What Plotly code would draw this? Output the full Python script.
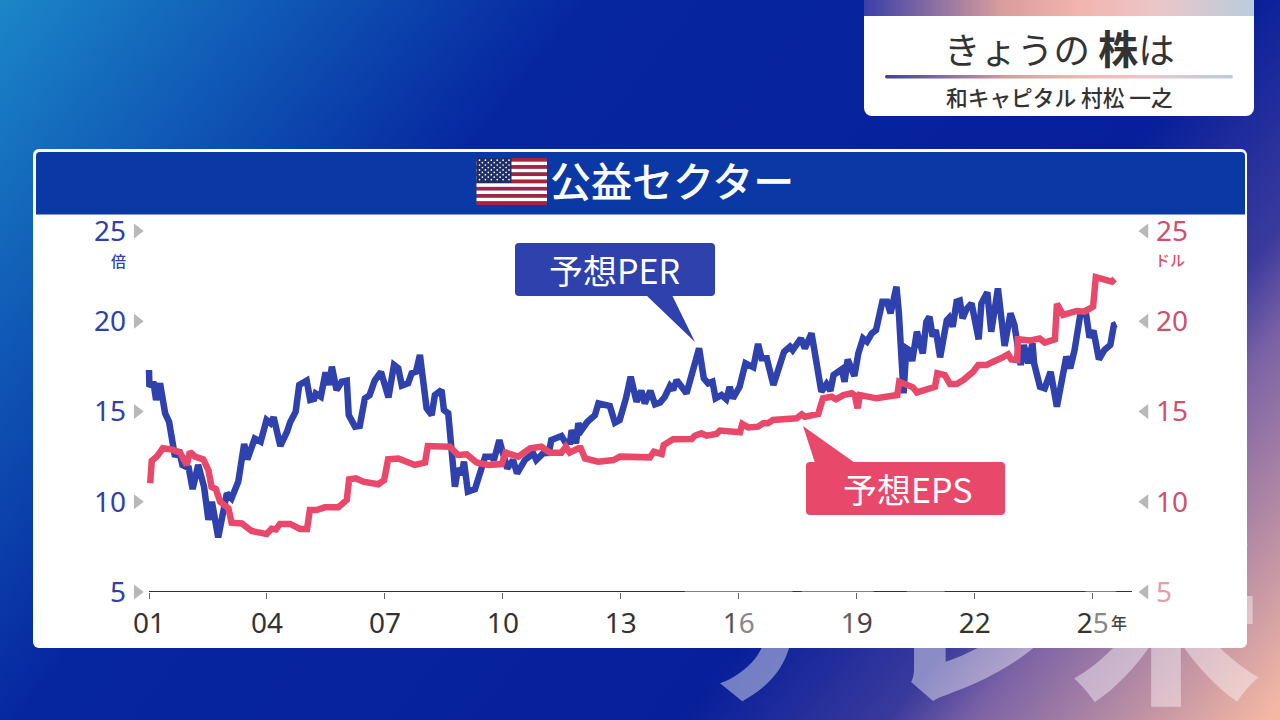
import base64
import plotly.graph_objects as go

# Years since January 2001
PER_YEARS = [
    0.00,0.01,0.11,0.18,0.28,0.41,0.51,0.66,0.76,0.85,
    1.01,1.11,1.25,1.40,1.51,1.60,1.76,1.98,2.10,2.27,
    2.42,2.50,2.69,2.84,2.99,3.09,3.17,3.34,3.51,3.59,
    3.73,3.82,4.01,4.10,4.20,4.24,4.37,4.49,4.58,4.65,
    4.77,4.90,5.03,5.08,5.24,5.36,5.49,5.61,5.74,5.90,
    6.09,6.23,6.34,6.43,6.59,6.68,6.79,6.89,7.06,7.19,
    7.27,7.44,7.50,7.61,7.78,7.86,7.95,8.01,8.11,8.29,
    8.55,8.72,8.77,8.91,9.11,9.26,9.36,9.56,9.77,9.85,
    10.02,10.17,10.23,10.36,10.49,10.58,10.71,10.75,10.86,10.92,
    11.00,11.15,11.34,11.43,11.54,11.72,11.85,11.97,12.13,12.25,
    12.40,12.52,12.61,12.75,12.87,13.00,13.12,13.25,13.33,13.42,
    13.67,13.84,13.99,14.11,14.22,14.33,14.41,14.56,14.68,14.77,
    14.85,15.02,15.17,15.37,15.49,15.58,15.71,15.88,16.00,16.15,
    16.30,16.37,16.58,16.68,16.85,17.01,17.10,17.23,17.33,17.41,
    17.62,17.69,17.77,17.94,18.04,18.16,18.26,18.38,18.49,18.65,
    18.77,18.86,19.01,19.07,19.19,19.26,19.33,19.41,19.53,19.68,
    19.77,19.85,19.93,20.01,20.12,20.29,20.35,20.44,20.54,20.62,
    20.69,20.79,20.92,21.10,21.17,21.32,21.42,21.59,21.76,21.91,
    22.01,22.17,22.25,22.36,22.47,22.51,22.66,22.78,22.93,23.09,
    23.21,23.33,23.43,23.54,23.69,23.82,23.92,24.02,24.16,24.30,
    24.45,24.54,24.60,
]
PER_VALUES = [
    17.3,16.37,16.65,15.64,16.56,14.9,14.43,12.5,12.87,12.04,
    11.87,10.7,12.04,10.83,9.0,10.0,8.03,10.47,10.19,11.11,
    13.2,12.35,13.5,13.33,14.53,14.35,14.68,13.09,13.88,14.4,
    14.99,16.47,16.71,15.64,15.7,16.0,15.82,17.17,16.47,17.48,
    16.19,16.65,16.71,14.8,14.16,14.2,15.73,15.91,16.71,17.2,
    15.78,17.58,17.39,16.43,16.56,17.12,17.2,18.13,15.18,14.8,
    15.91,16.19,15.08,14.9,10.83,11.85,11.5,12.22,10.56,10.69,
    12.5,12.5,12.3,13.42,11.85,12.31,11.57,12.31,12.68,12.31,
    12.68,12.7,13.42,13.5,13.64,13.33,13.33,13.97,13.24,14.35,
    13.97,14.43,14.8,15.45,15.4,15.3,14.38,14.53,15.73,16.93,
    15.54,16.15,15.45,16.15,15.4,15.5,15.82,16.41,16.2,16.74,
    16.01,17.2,18.5,16.84,16.56,16.65,15.73,15.91,15.68,16.37,
    15.73,16.37,17.67,17.45,18.74,17.95,17.95,16.47,17.2,18.31,
    18.59,18.4,19.05,18.5,19.33,17.48,16.1,16.52,16.15,17.02,
    17.34,16.65,17.89,16.97,18.22,19.05,18.87,19.33,19.51,21.08,
    21.08,20.44,21.91,20.5,16.01,18.5,18.4,17.8,19.42,18.22,
    19.97,20.25,19.15,19.51,18.0,20.06,20.2,19.7,21.08,21.14,
    20.16,20.66,20.99,19.0,20.99,21.6,19.42,21.82,18.63,20.44,
    19.79,17.58,18.69,17.67,18.78,17.67,16.37,16.28,17.2,15.27,
    16.65,18.04,17.39,18.41,20.44,20.58,19.1,19.48,17.89,18.41,
    18.69,19.79,19.85,
]
EPS_YEARS = [
    0.03,0.07,0.20,0.35,0.58,0.79,0.96,1.04,1.17,1.38,
    1.51,1.59,1.70,1.81,2.02,2.10,2.36,2.61,2.99,3.12,
    3.23,3.33,3.59,3.84,4.02,4.09,4.26,4.47,4.81,5.03,
    5.09,5.26,5.45,5.83,5.98,6.08,6.34,6.76,7.02,7.09,
    7.65,7.86,8.08,8.33,8.63,8.97,9.07,9.39,9.69,9.98,
    10.20,10.49,10.60,10.70,10.92,10.98,11.09,11.42,11.81,11.98,
    12.74,12.84,13.04,13.09,13.33,13.80,13.88,14.05,14.18,14.43,
    14.52,15.03,15.09,15.24,15.49,15.62,15.74,15.87,16.47,16.60,
    16.68,16.93,17.02,17.14,17.36,17.47,17.66,17.87,17.95,18.02,
    18.08,18.50,18.89,19.03,19.08,19.43,19.53,19.73,19.99,20.05,
    20.24,20.37,20.54,20.71,20.96,21.09,21.30,21.47,21.64,21.71,
    21.85,21.93,22.08,22.10,22.40,22.65,22.78,23.04,23.09,23.25,
    23.59,23.80,24.01,24.08,24.35,24.49,24.56,
]
EPS_VALUES = [
    11.02,12.27,12.5,12.96,12.9,12.72,12.04,12.77,12.5,12.35,
    11.76,10.83,10.7,10.0,9.64,8.84,8.8,8.38,8.21,8.51,
    8.47,8.77,8.77,8.49,8.49,9.54,9.54,9.69,9.69,10.1,
    11.24,11.3,11.11,10.97,11.2,12.35,12.4,12.04,12.17,13.09,
    13.05,12.59,12.63,12.18,12.04,12.09,12.72,12.5,12.96,13.05,
    12.72,12.72,13.05,12.72,12.96,12.96,12.4,12.22,12.31,12.5,
    12.46,12.77,12.65,13.14,13.46,13.48,13.66,13.79,13.66,13.75,
    13.94,13.85,14.31,14.12,14.16,14.35,14.35,14.53,14.62,14.84,
    14.71,14.86,14.86,15.73,15.82,15.68,15.91,16.01,15.9,15.18,
    15.91,15.73,15.91,15.91,16.65,16.34,16.06,16.19,16.37,17.12,
    17.02,16.52,16.52,16.74,17.2,17.58,17.58,17.76,18.0,18.0,
    18.17,17.89,17.85,19.0,18.93,19.05,18.82,19.0,20.96,20.35,
    20.57,20.53,20.81,22.44,22.28,22.2,22.34,
]
X_TICK_VALUES = [0, 3, 6, 9, 12, 15, 18, 21, 24]
X_TICK_TEXT = ["01", "04", "07", "10", "13",
               '<span style="color:#555">1</span><span style="color:#888">6</span>',
               '<span style="color:#666">1</span><span style="color:#444">9</span>',
               "22",
               '<span style="color:#333">2</span><span style="color:#888">5</span>']
Y_TICKS = [5, 10, 15, 20, 25]
LEFT_TICK_TEXT = ["5", "10", "15", "20", "25"]
RIGHT_TICK_TEXT = ['<span style="color:#e79bac">5</span>', "10", "15", "20", "25"]
DARK_AXIS_SPANS = [(0, 13.63), (16.37, 16.6), (18.43, 19.27), (20.24, 23.82), (24.59, 25)]

BLUE = "#2e41ad"
RED = "#e8496a"
FONT = "Noto Sans CJK JP"
TICK_FONT = "Noto Sans"
L, R, T, B = 131, 1150, 231, 592
W, H = R - L, B - T


def px(x):
    return (x - L) / W


def py(y):
    return (B - y) / H


def svg_background():
    stops = [(0, "#1b86c8"), (.15, "#1059b5"), (.32, "#0626a0"), (.68, "#071f9a"),
             (.795, "#3a3a9c"), (.84, "#7b62a5"), (.90, "#a882a5"), (1, "#f3b7a3")]
    grad = "".join(f'<stop offset="{o}" stop-color="{c}"/>' for o, c in stops)
    bar = [(0, "#3a3fa8"), (.35, "#d89c9c"), (.55, "#f3b4ae"), (.75, "#ebc6c8"), (1, "#b9cddd")]
    bargrad = "".join(f'<stop offset="{o}" stop-color="{c}"/>' for o, c in bar)
    stripes = "".join(
        f'<rect x="476.5" y="{158 + i * 47 / 13:.2f}" width="70.5" height="{47 / 13:.2f}" '
        f'fill="{"#a8233c" if i % 2 == 0 else "#ffffff"}"/>' for i in range(13))
    stars = ""
    for row in range(9):
        n = 6 if row % 2 == 0 else 5
        for c in range(n):
            sx = 479.5 + c * 5.9 + (0 if row % 2 == 0 else 2.95)
            stars += f'<circle cx="{sx:.1f}" cy="{160.2 + row * 2.42:.1f}" r="0.85" fill="#fff"/>'
    return f'''<svg xmlns="http://www.w3.org/2000/svg" width="1280" height="720" viewBox="0 0 1280 720">
<defs><linearGradient id="bg" gradientUnits="userSpaceOnUse" x1="0" y1="0" x2="1126" y2="895">{grad}</linearGradient>
<linearGradient id="bar" x1="0" y1="0" x2="1" y2="0">{bargrad}</linearGradient></defs>
<rect width="1280" height="720" fill="url(#bg)"/>
<g font-family="Noto Sans CJK JP" font-size="190" fill="#ffffff" fill-opacity="0.42" text-anchor="middle">
<text x="786" y="690" font-weight="700">ア</text><text x="972" y="690" font-weight="900">レ</text><text x="1166" y="688" font-weight="900">米</text></g>
<rect x="864" y="-8" width="390" height="124" rx="8" fill="#ffffff"/>
<path d="M864 0H1254V16H864Z" fill="url(#bar)"/>
<rect x="885" y="75" width="348" height="3.5" rx="1.7" fill="url(#bar)"/>
<rect x="33" y="149" width="1214" height="499" rx="6" fill="#ffffff"/>
<path d="M36 156a4 4 0 0 1 4-4H1241a4 4 0 0 1 4 4V214.500H36Z" fill="#0a39a6"/>
{stripes}<rect x="476.5" y="158" width="35" height="25" fill="#1f2f66"/>{stars}
</svg>'''


bg_uri = "data:image/svg+xml;base64," + base64.b64encode(svg_background().encode("utf-8")).decode()


def rounded_box(x0, y0, x1, y1, r=4):
    a, b, c, d = px(x0), px(x1), py(y0), py(y1)
    rx, ry = r / W, r / H
    return (f"M{a + rx},{c} L{b - rx},{c} Q{b},{c} {b},{c - ry} L{b},{d + ry} Q{b},{d} {b - rx},{d} "
            f"L{a + rx},{d} Q{a},{d} {a},{d + ry} L{a},{c - ry} Q{a},{c} {a + rx},{c} Z")


def triangle(p1, p2, p3):
    return "M" + " L".join(f"{px(x)},{py(y)}" for x, y in (p1, p2, p3)) + " Z"


fig = go.Figure()
fig.add_trace(go.Scatter(x=PER_YEARS, y=PER_VALUES, mode="lines", cliponaxis=False, showlegend=False,
                         name="予想PER", line=dict(color=BLUE, width=6.5)))
fig.add_trace(go.Scatter(x=EPS_YEARS, y=EPS_VALUES, mode="lines", cliponaxis=False, showlegend=False,
                         name="予想EPS", yaxis="y2", line=dict(color=RED, width=6.5)))
# Grey arrowheads beside the two value axes
fig.add_trace(go.Scatter(x=[-0.3] * len(Y_TICKS), y=Y_TICKS, mode="markers", cliponaxis=False, showlegend=False,
                         marker=dict(symbol="triangle-right", size=13, color="#b8b8b8")))
fig.add_trace(go.Scatter(x=[25.33] * len(Y_TICKS), y=Y_TICKS, mode="markers", cliponaxis=False, showlegend=False,
                         yaxis="y2", marker=dict(symbol="triangle-left", size=13, color="#b8b8b8")))

shapes = [dict(type="line", xref="x", yref="y", x0=0, x1=25, y0=5, y1=5, layer="above",
               line=dict(color="#808080", width=2))]
shapes += [dict(type="line", xref="x", yref="y", x0=a, x1=b, y0=5, y1=5, layer="above",
                line=dict(color="#333333", width=2)) for a, b in DARK_AXIS_SPANS]
shapes += [
    dict(type="path", xref="paper", yref="paper", path=rounded_box(515, 243, 715, 296),
         fillcolor=BLUE, line=dict(width=0)),
    dict(type="path", xref="paper", yref="paper", path=triangle((646, 295), (672, 295), (695, 342)),
         fillcolor=BLUE, line=dict(width=0)),
    dict(type="path", xref="paper", yref="paper", path=rounded_box(806, 462, 1005, 515),
         fillcolor=RED, line=dict(width=0)),
    dict(type="path", xref="paper", yref="paper", path=triangle((803, 426), (815, 463), (855, 463)),
         fillcolor=RED, line=dict(width=0)),
]


def note(text, x, y, size, color, weight=400):
    return dict(text=text, x=px(x), y=py(y), xref="paper", yref="paper", showarrow=False, xanchor="center",
                yanchor="middle", font=dict(family=FONT, size=size, color=color, weight=weight))


annotations = [
    note('きょうの <b><span style="font-size:40px">株</span></b>は', 1059, 47, 36.5, "#333333"),
    note("和キャピタル 村松 一之", 1059, 96, 21.7, "#333333", 500),
    note("公益セクター", 672, 179, 41, "#ffffff", 500),
    note("予想PER", 614, 269, 34, "#ffffff"),
    note("予想EPS", 907, 488, 34, "#ffffff"),
    note("倍", 118, 260, 15, BLUE, 500),
    note("ドル", 1170, 259, 15, "#d9506e", 500),
    note("年", 1119, 622, 16, "#444444", 500),
]

fig.update_layout(
    width=1280, height=720, autosize=False,
    margin=dict(l=L, r=1280 - R, t=T, b=720 - B, pad=0),
    paper_bgcolor="#0626a0", plot_bgcolor="rgba(0,0,0,0)",
    showlegend=False, shapes=shapes, annotations=annotations,
    images=[dict(source=bg_uri, xref="paper", yref="paper", x=-L / W, y=B / H, sizex=1280 / W, sizey=720 / H,
                 xanchor="left", yanchor="top", sizing="stretch", layer="below")],
    xaxis=dict(range=[-0.458, 25.458], tickmode="array", tickvals=X_TICK_VALUES, ticktext=X_TICK_TEXT,
               showgrid=False, zeroline=False, showline=False, ticks="outside", ticklen=6,
               tickwidth=1, tickcolor="#666666", tickfont=dict(family=TICK_FONT, size=28, color="#333333"),
               tickangle=0),
    yaxis=dict(range=[5, 25], tickmode="array", tickvals=Y_TICKS, ticktext=LEFT_TICK_TEXT, showgrid=False,
               zeroline=False, ticks="", ticklabelstandoff=4,
               tickfont=dict(family=TICK_FONT, size=28, color=BLUE)),
    yaxis2=dict(range=[5, 25], overlaying="y", side="right", tickmode="array", tickvals=Y_TICKS,
                ticktext=RIGHT_TICK_TEXT, showgrid=False, zeroline=False, ticks="", ticklabelstandoff=5,
                tickfont=dict(family=TICK_FONT, size=28, color="#d0506e")),
)

fig.write_html("out.html", config=dict(displayModeBar=False),
               post_script="document.body.style.margin='0';document.documentElement.style.overflow='hidden';window.dispatchEvent(new Event('resize'));")
